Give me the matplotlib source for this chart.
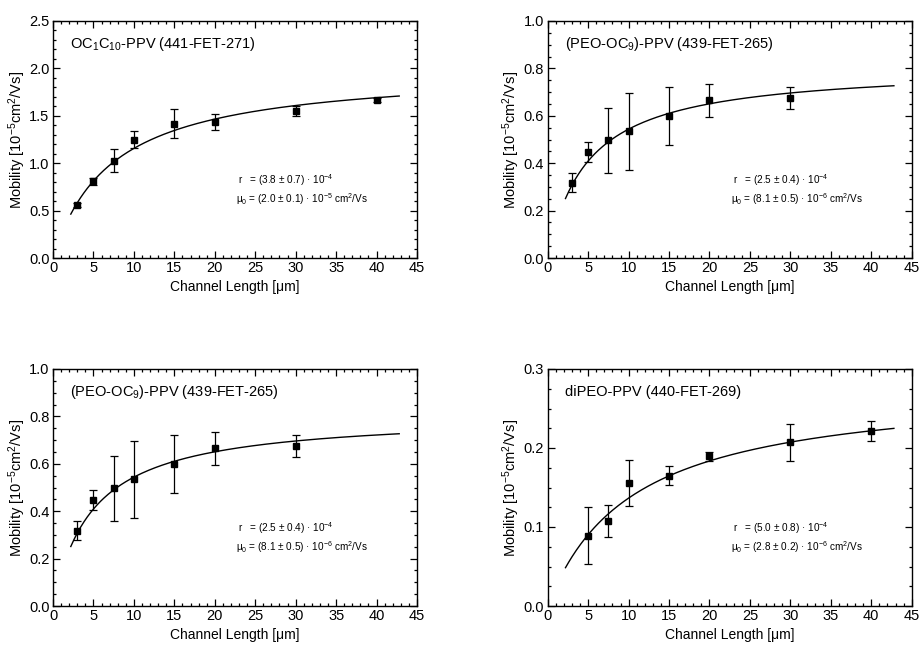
import numpy as np
import matplotlib
matplotlib.use("Agg")
import matplotlib.pyplot as plt
from matplotlib.ticker import MultipleLocator

plt.rcParams['font.family'] = ['Liberation Sans', 'DejaVu Sans']
plt.rcParams['mathtext.fontset'] = 'custom'
plt.rcParams['mathtext.rm'] = 'Liberation Sans'
plt.rcParams['mathtext.it'] = 'Liberation Sans:italic'
plt.rcParams['mathtext.default'] = 'regular'

# ---- data ----
L1 = [3, 5, 7.5, 10, 15, 20, 30, 40]
mu1 = [0.563, 0.809, 1.027, 1.248, 1.417, 1.435, 1.55, 1.663]
err1 = [0.02, 0.04, 0.12, 0.09, 0.155, 0.08, 0.05, 0.02]

L2 = [3, 5, 7.5, 10, 15, 20, 30]
mu2 = [0.318, 0.447, 0.496, 0.534, 0.600, 0.665, 0.676]
err2 = [0.039, 0.044, 0.138, 0.164, 0.123, 0.070, 0.046]

L4 = [5, 7.5, 10, 15, 20, 30, 40]
mu4 = [0.089, 0.1076, 0.156, 0.1646, 0.1895, 0.207, 0.2215]
err4 = [0.036, 0.020, 0.029, 0.012, 0.006, 0.023, 0.013]

# fit parameters: mu = mu0 * L / (L + L0)
fit_mu0 = [2.0, 0.81, 0.81, 0.28]
fit_L0 = [7.3, 4.9, 4.9, 10.5]

titles = ["OC$_1$C$_{10}$-PPV (441-FET-271)",
          "(PEO-OC$_9$)-PPV (439-FET-265)",
          "(PEO-OC$_9$)-PPV (439-FET-265)",
          "diPEO-PPV (440-FET-269)"]
r_text = ["r   = (3.8 ± 0.7) · 10$^{-4}$",
          "r   = (2.5 ± 0.4) · 10$^{-4}$",
          "r   = (2.5 ± 0.4) · 10$^{-4}$",
          "r   = (5.0 ± 0.8) · 10$^{-4}$"]
mu_text = ["μ$_0$ = (2.0 ± 0.1) · 10$^{-5}$ cm$^2$/Vs",
           "μ$_0$ = (8.1 ± 0.5) · 10$^{-6}$ cm$^2$/Vs",
           "μ$_0$ = (8.1 ± 0.5) · 10$^{-6}$ cm$^2$/Vs",
           "μ$_0$ = (2.8 ± 0.2) · 10$^{-6}$ cm$^2$/Vs"]
ymax = [2.5, 1.0, 1.0, 0.3]
ymajor = [0.5, 0.2, 0.2, 0.1]
yminor = [0.1, 0.05, 0.05, 0.025]
datasets = [(L1, mu1, err1), (L2, mu2, err2), (L2, mu2, err2), (L4, mu4, err4)]

fig = plt.figure(figsize=(9.19, 6.45), dpi=100)
W, H = 919, 645
positions = [(53, 21), (547.7, 21), (53, 369), (547.7, 369)]
aw, ah = 364, 237

for i, (px, py) in enumerate(positions):
    ax = fig.add_axes([px / W, 1 - (py + ah) / H, aw / W, ah / H])
    L, mu, err = datasets[i]
    ax.errorbar(L, mu, yerr=err, fmt='s', color='black', ms=5,
                capsize=3, elinewidth=0.9, capthick=0.9)
    xf = np.linspace(2.2, 42.8, 300)
    ax.plot(xf, fit_mu0[i] * xf / (xf + fit_L0[i]), color='black', lw=1.0)
    ax.set_xlim(0, 45)
    ax.set_ylim(0, ymax[i])
    ax.xaxis.set_major_locator(MultipleLocator(5))
    ax.xaxis.set_minor_locator(MultipleLocator(1))
    ax.yaxis.set_major_locator(MultipleLocator(ymajor[i]))
    ax.yaxis.set_minor_locator(MultipleLocator(yminor[i]))
    ax.yaxis.set_major_formatter(matplotlib.ticker.FormatStrFormatter("%.1f"))
    ax.tick_params(which='both', direction='in', top=True, right=True,
                   labelsize=10.5, width=0.9, pad=2.5)
    ax.tick_params(which='major', length=5)
    ax.tick_params(which='minor', length=2.5)
    for s in ax.spines.values():
        s.set_linewidth(1.0)
    ax.set_xlabel("Channel Length [μm]", fontsize=10, labelpad=3)
    ax.set_ylabel("Mobility [10$^{-5}$cm$^2$/Vs]", fontsize=10.5, labelpad=1)
    ax.text(0.047, 0.905, titles[i], transform=ax.transAxes, fontsize=10.5,
            va='center', ha='left')
    ax.text(0.508, 0.33, r_text[i], transform=ax.transAxes, fontsize=7.2,
            va='center', ha='left')
    ax.text(0.503, 0.25, mu_text[i], transform=ax.transAxes, fontsize=7.2,
            va='center', ha='left')

fig.savefig("out.png", dpi=100)
